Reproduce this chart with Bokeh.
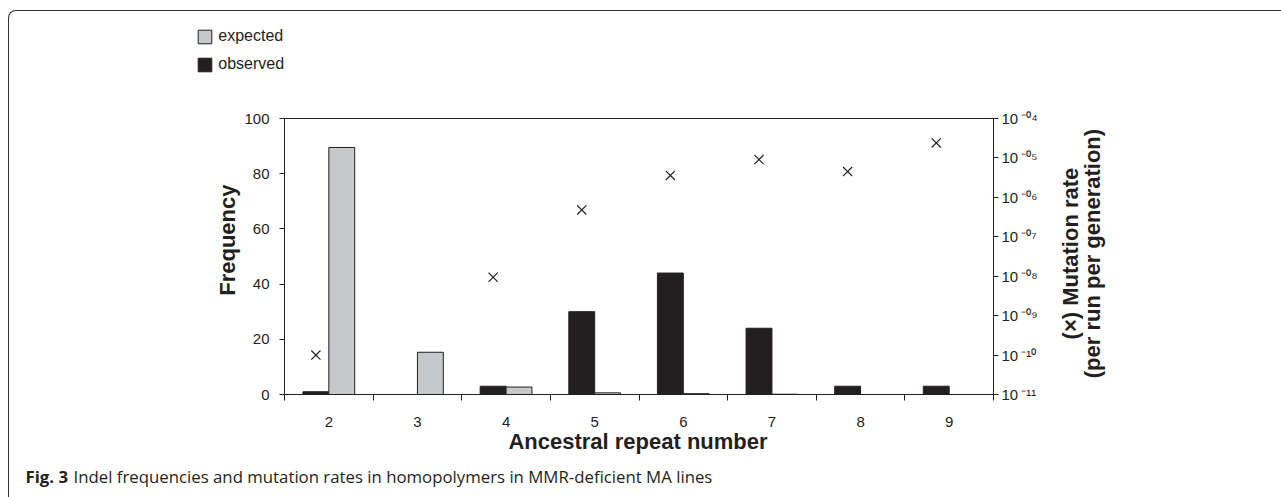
import math
import numpy as np
from bokeh.plotting import figure
from bokeh.layouts import column, row
from bokeh.models import (Range1d, LogScale, LogAxis, FixedTicker, CustomJSTickFormatter,
                          Label, Legend, LegendItem, ColumnDataSource, InlineStyleSheet)
from bokeh.transform import dodge
from bokeh.embed import file_html
from bokeh.resources import INLINE

# ---------------- data ----------------
categories = [2, 3, 4, 5, 6, 7, 8, 9]
expected = [89.5, 15.3, 2.7, 0.6, 0.3, 0.1, 0.0, 0.0]
observed = [1, 0, 3, 30, 44, 24, 3, 3]
mutation_rate = [1.0e-10, float("nan"), 9.4e-9, 4.8e-7, 3.6e-6, 9.1e-6, 4.5e-6, 2.4e-5]
freq_ticks = [0, 20, 40, 60, 80, 100]
rate_ticks = [1e-11, 1e-10, 1e-9, 1e-8, 1e-7, 1e-6, 1e-5, 1e-4]
category_bounds = [1.5, 2.5, 3.5, 4.5, 5.5, 6.5, 7.5, 8.5, 9.5]
legend_labels = ["expected", "observed"]
x_title = "Ancestral repeat number"
y_title = "Frequency"
y2_title = ["(\u00d7) Mutation rate", "(per run per generation)"]
caption_bold = "Fig. 3"
caption_text = "Indel frequencies and mutation rates in homopolymers in MMR-deficient MA lines"

# ---------------- styling / layout ----------------
INK = "#231f20"
GRAY = "#c7c8ca"
FONT = "Liberation Sans"
TOTAL_W = 1281
TOP_H, MID_H, CAP_H = 100, 329, 68
LEFT_W, CHART_W, RIGHT_W = 241, 809, 231
TSHIFT = 8   # baseline correction for 22px titles
CSHIFT = 7   # baseline correction for caption

src = ColumnDataSource(dict(x=categories, exp=expected, obs=observed,
                            rate=np.array(mutation_rate, dtype=float)))


def blank(width, height):
    f = figure(width=width, height=height, output_backend="svg", toolbar_location=None,
               x_range=Range1d(0, width), y_range=Range1d(0, height),
               x_axis_type=None, y_axis_type=None,
               min_border_left=0, min_border_right=0, min_border_top=0, min_border_bottom=0,
               outline_line_color=None, background_fill_color="white",
               border_fill_color="white")
    f.grid.visible = False
    return f


# ---------------- top strip: legend ----------------
top = blank(TOTAL_W, TOP_H)
d_exp = top.vbar(x="x", top="exp", width=0.3, source=src, fill_color=GRAY,
                 line_color=INK, line_width=1, visible=False)
d_obs = top.vbar(x="x", top="obs", width=0.3, source=src, fill_color=INK,
                 line_color=INK, line_width=1, visible=False)
legend = Legend(items=[LegendItem(label=legend_labels[0], renderers=[d_exp]),
                       LegendItem(label=legend_labels[1], renderers=[d_obs])],
                location=(196.3, 26.7), glyph_width=17, glyph_height=17, label_height=17,
                spacing=10, padding=0, margin=0, border_line_color=None,
                background_fill_alpha=0, inactive_fill_alpha=0,
                label_text_font=FONT, label_text_font_size="16px",
                label_text_color=INK, label_standoff=5, label_text_baseline="middle")
top.add_layout(legend, "center")

# ---------------- main chart ----------------
CL, CR, CT, CB = 41, 57, 18, 35
p = figure(width=CHART_W, height=MID_H, output_backend="svg", toolbar_location=None,
           x_range=Range1d(1.5, 9.5), y_range=Range1d(0, 100),
           min_border_left=CL, min_border_right=CR, min_border_top=CT, min_border_bottom=CB,
           background_fill_color="white", border_fill_color="white")
p.xgrid.visible = False
p.ygrid.visible = False
p.outline_line_color = INK
p.outline_line_width = 1

p.extra_y_ranges = {"rate": Range1d(1e-11, 1e-4)}
p.extra_y_scales = {"rate": LogScale()}

off = 0.146
bw = 0.292
p.vbar(x=dodge("x", -off, range=p.x_range), top="obs", width=bw, source=src,
       fill_color=INK, line_color=INK, line_width=1)
p.vbar(x=dodge("x", off, range=p.x_range), top="exp", width=bw, source=src,
       fill_color=GRAY, line_color=INK, line_width=1)
p.scatter(x=dodge("x", -off, range=p.x_range), y="rate", source=src, y_range_name="rate",
          marker="x", size=13, line_color=INK, line_width=1.2)

xa = p.xaxis[0]
xa.ticker = FixedTicker(ticks=categories, minor_ticks=category_bounds)
xa.major_tick_out = 0
xa.major_tick_in = 0
xa.minor_tick_out = 6
xa.minor_tick_in = 0
xa.minor_tick_line_color = INK
xa.axis_line_color = INK
xa.major_label_standoff = 16
xa.major_label_text_font = FONT
xa.major_label_text_font_size = "15px"
xa.major_label_text_color = INK

ya = p.yaxis[0]
ya.ticker = FixedTicker(ticks=freq_ticks)
ya.major_tick_out = 5
ya.major_tick_in = 0
ya.minor_tick_out = 0
ya.minor_tick_in = 0
ya.major_tick_line_color = INK
ya.axis_line_color = INK
ya.major_label_standoff = 10
ya.major_label_text_font = FONT
ya.major_label_text_font_size = "15px"
ya.major_label_text_color = INK

fmt = CustomJSTickFormatter(code="""
const sup = {"0":"\u2070","1":"\u00b9","2":"\u00b2","3":"\u00b3","4":"\u2074","5":"\u2075",
             "6":"\u2076","7":"\u2077","8":"\u2078","9":"\u2079","-":"\u207b"};
const e = Math.round(Math.log10(tick));
const s = "-" + String(Math.abs(e)).padStart(2, "0");
return "10\u2009" + s.split("").map(c => sup[c]).join("");
""")
ra = LogAxis(y_range_name="rate", ticker=FixedTicker(ticks=rate_ticks), formatter=fmt)
ra.major_tick_out = 5
ra.major_tick_in = 0
ra.minor_tick_out = 0
ra.minor_tick_in = 0
ra.major_tick_line_color = INK
ra.axis_line_color = INK
ra.major_label_standoff = 3
ra.major_label_text_font = FONT
ra.major_label_text_font_size = "15px"
ra.major_label_text_color = INK
p.add_layout(ra, "right")

title_style = dict(text_font=FONT, text_font_style="bold", text_font_size="22px",
                   text_color=INK, text_baseline="alphabetic", text_align="center")

# ---------------- left strip: y title ----------------
left = blank(LEFT_W, MID_H)
left.add_layout(Label(x=235 - TSHIFT, y=MID_H - (245 - TOP_H), text=y_title,
                      angle=math.pi / 2, **title_style))

# ---------------- right strip: secondary y title ----------------
RX0 = LEFT_W + CHART_W
right = blank(RIGHT_W, MID_H)
right.add_layout(Label(x=1078 - TSHIFT - RX0, y=MID_H - (261 - TOP_H), text=y2_title[0],
                       angle=math.pi / 2, **title_style))
right.add_layout(Label(x=1100 - TSHIFT - RX0, y=MID_H - (261 - TOP_H), text=y2_title[1],
                       angle=math.pi / 2, **title_style))

# ---------------- bottom strip: x title + caption ----------------
CAP_Y0 = TOP_H + MID_H
cap = blank(TOTAL_W, CAP_H)
cap.add_layout(Label(x=LEFT_W + CL + (CHART_W - CL - CR) / 2,
                     y=CAP_H - (449 - CAP_Y0) + TSHIFT, text=x_title, **title_style))
cap.add_layout(Label(x=25, y=CAP_H - (483 - CAP_Y0) + CSHIFT, text=caption_bold,
                     text_align="left", text_baseline="alphabetic", text_font="Open Sans",
                     text_font_style="bold", text_font_size="16.8px", text_color=INK))
cap.add_layout(Label(x=73, y=CAP_H - (483 - CAP_Y0) + CSHIFT, text=caption_text,
                     text_align="left", text_baseline="alphabetic", text_font="Open Sans",
                     text_font_size="16.8px", text_color=INK))

frame_css = InlineStyleSheet(css="""
:host::after {
  content: "";
  position: absolute;
  left: 8px; top: 10px; right: 0px; bottom: 0px;
  border-top: 1.6px solid #333333;
  border-left: 1.6px solid #333333;
  border-top-left-radius: 8px;
  pointer-events: none;
}
""")

layout = column(top, row(left, p, right, spacing=0), cap, spacing=0, stylesheets=[frame_css])

open("out.html", "w").write(file_html(layout, INLINE))
